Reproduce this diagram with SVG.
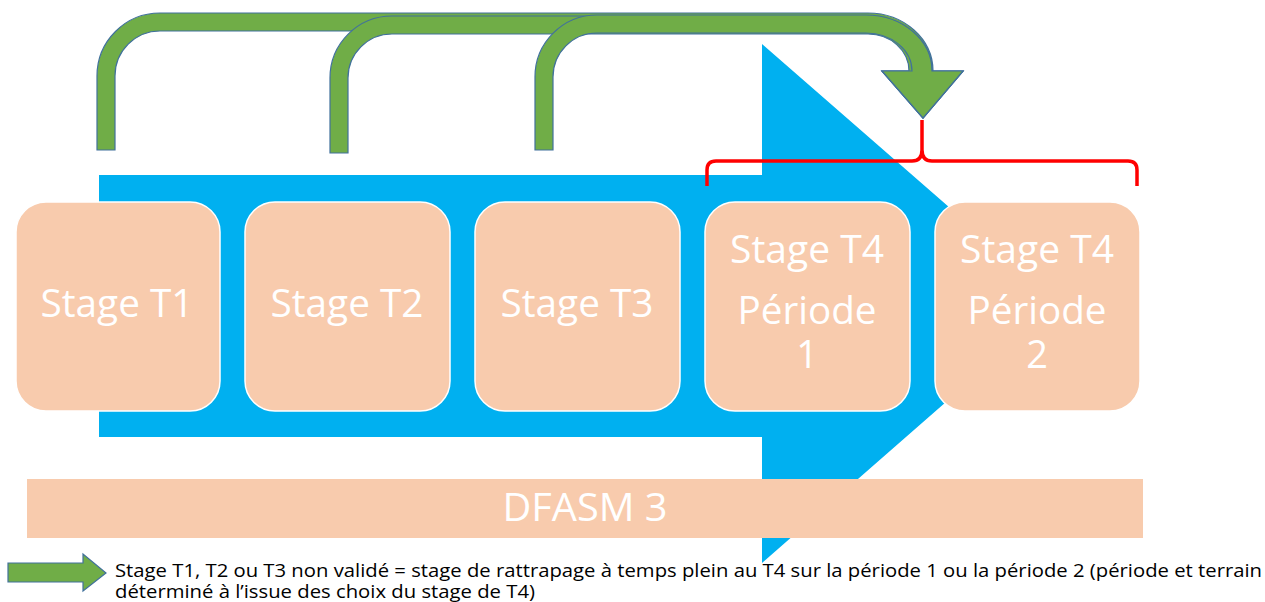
<svg xmlns="http://www.w3.org/2000/svg" width="1265" height="602" viewBox="0 0 1265 602">
<style>
.box{fill:#F8CBAD;stroke:#FFFFFF;stroke-width:1.5}
.lbl{font-family:"Open Sans","DejaVu Sans",sans-serif;font-size:38px;fill:#FFFFFF;text-anchor:middle}
.garrow{fill:#70AD47;stroke:#41719C;stroke-width:1.2;stroke-linejoin:miter}
.legend{font-family:"Open Sans","DejaVu Sans",sans-serif;font-size:17.5px;fill:#000000}
</style>
<rect width="1265" height="602" fill="#FFFFFF"/>
<g id="blue-arrow">
<path d="M99,175 H762 V44 L1059,303 L762,563 V437 H99 Z" fill="#00B0F0"/>
</g>
<g id="stage-t1">
<rect class="box" x="16" y="202" width="204" height="209" rx="30"/>
<text class="lbl" x="117" y="317" textLength="153" lengthAdjust="spacingAndGlyphs">Stage T1</text>
</g>
<g id="stage-t2">
<rect class="box" x="245" y="202" width="205" height="209" rx="30"/>
<text class="lbl" x="347" y="317" textLength="153" lengthAdjust="spacingAndGlyphs">Stage T2</text>
</g>
<g id="stage-t3">
<rect class="box" x="475" y="202" width="205" height="209" rx="30"/>
<text class="lbl" x="577" y="317" textLength="153" lengthAdjust="spacingAndGlyphs">Stage T3</text>
</g>
<g id="stage-t4-p1">
<rect class="box" x="705" y="202" width="205" height="209" rx="30"/>
<text class="lbl" x="807" y="263" textLength="154" lengthAdjust="spacingAndGlyphs">Stage T4</text>
<text class="lbl" x="807" y="324" textLength="139" lengthAdjust="spacingAndGlyphs">Période</text>
<text class="lbl" x="807" y="368">1</text>
</g>
<g id="stage-t4-p2">
<rect class="box" x="935" y="202" width="205" height="209" rx="30"/>
<text class="lbl" x="1037" y="263" textLength="154" lengthAdjust="spacingAndGlyphs">Stage T4</text>
<text class="lbl" x="1037" y="324" textLength="139" lengthAdjust="spacingAndGlyphs">Période</text>
<text class="lbl" x="1037" y="368">2</text>
</g>
<g id="dfasm3">
<rect x="27" y="479" width="1116" height="59" fill="#F8CBAD"/>
<text class="lbl" x="585" y="521" textLength="165" lengthAdjust="spacingAndGlyphs">DFASM 3</text>
</g>
<g id="connectors">
<path class="garrow" d="M97,150 V76 A63,63 0 0 1 160,13 H868 A65,58 0 0 1 933,71 H963 L923,118 L882,71 H911 A43,40 0 0 0 868,31 H160 A45,45 0 0 0 115,76 V150 Z"/>
<path class="garrow" d="M330,153 V78 A62,62 0 0 1 392,16 H868 A64,55 0 0 1 932,71 H963 L923,118 L882,71 H909 A41,37 0 0 0 868,34 H392 A44,44 0 0 0 348,78 V153 Z"/>
<path class="garrow" d="M535,150 V77 A62,62 0 0 1 597,15 H866 A66,56 0 0 1 932,71 H963 L923,118 L882,71 H912 A46,38 0 0 0 866,33 H597 A44,44 0 0 0 553,77 V150 Z"/>
<path d="M707,186 V170 Q707,161 716,161 H912 Q922,161 922,150 V120 M922,150 Q922,161 932,161 H1128 Q1137,161 1137,170 V186" fill="none" stroke="#FF0000" stroke-width="3.5"/>
</g>
<g id="legend">
<path class="garrow" d="M8,563 H83 V554 L106,573 L83,591 V582 H8 Z"/>
<text class="legend" x="115" y="577" textLength="1147" lengthAdjust="spacingAndGlyphs">Stage T1, T2 ou T3 non validé = stage de rattrapage à temps plein au T4 sur la période 1 ou la période 2 (période et terrain</text>
<text class="legend" x="115" y="598" textLength="420" lengthAdjust="spacingAndGlyphs">déterminé à l’issue des choix du stage de T4)</text>
</g>
</svg>
